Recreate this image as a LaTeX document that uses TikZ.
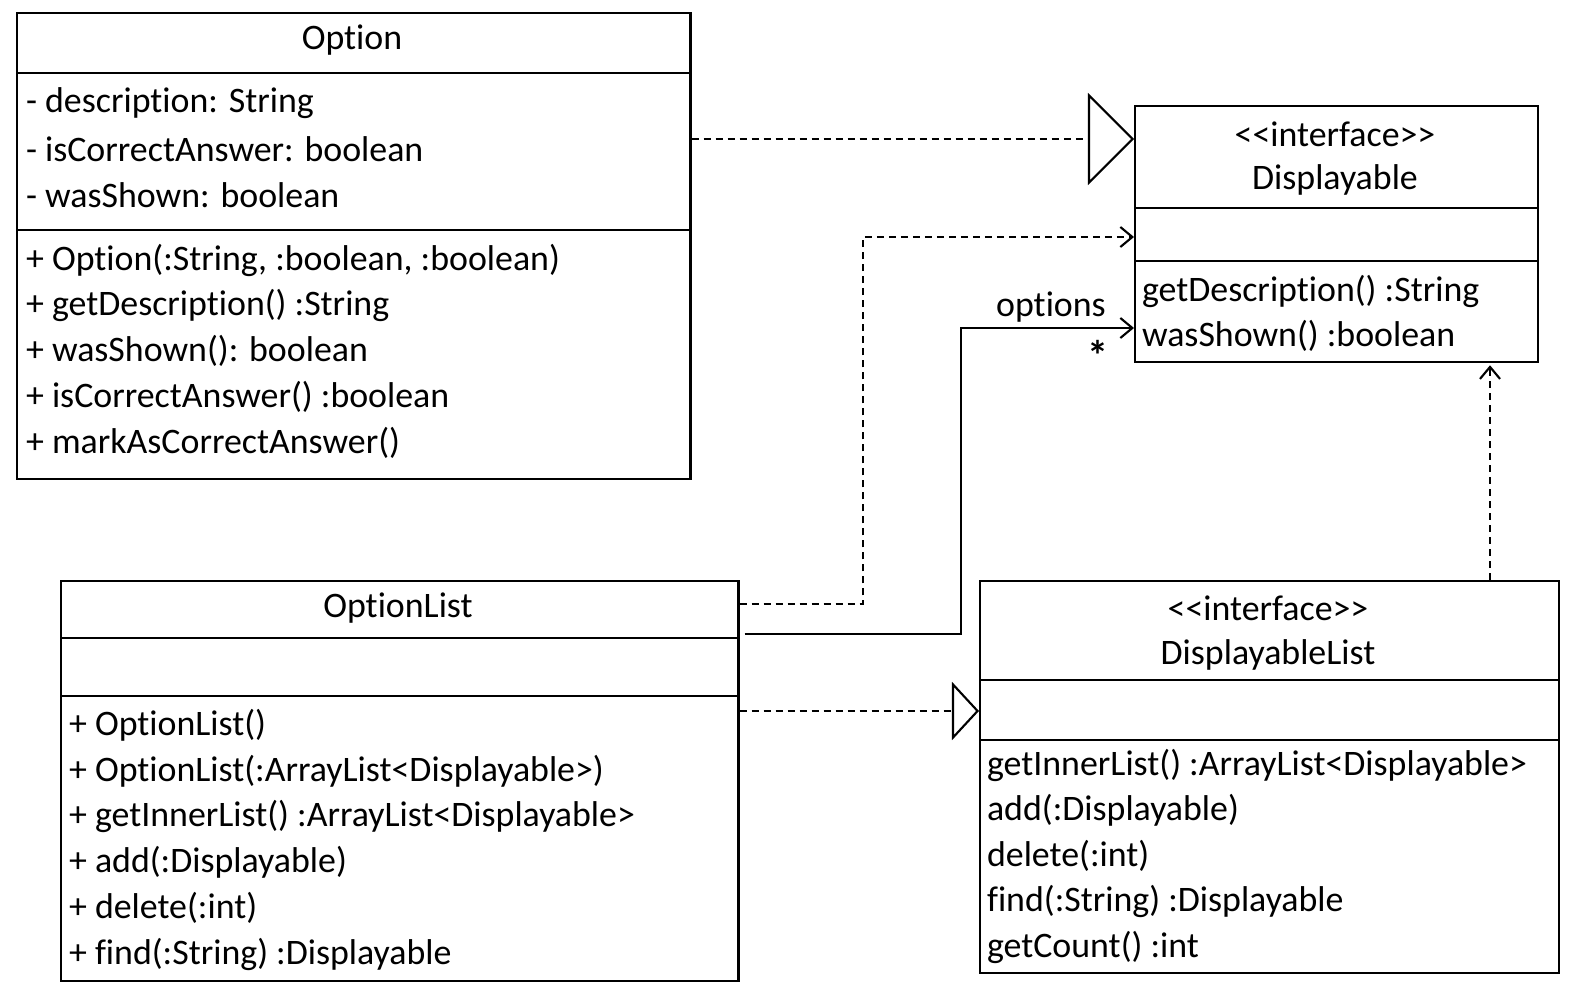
\documentclass[tikz,border=0pt]{standalone}
\usepackage{fontspec}
\setmainfont{Carlito}[Ligatures={TeXOff,NoCommon}]
\usetikzlibrary{arrows.meta,calc}

\begin{document}
\begin{tikzpicture}[
        x=0.01cm, y=-0.01cm,
        font=\fontsize{10.2}{12}\selectfont,
        line width=0.6pt,
        cls/.style={draw, anchor=north west, inner sep=0pt},
        row/.style={anchor=west, inner sep=0pt, yshift=-0.02cm},
        ttl/.style={inner sep=0pt},
        dep/.style={dash pattern=on 0.07cm off 0.05cm},
        real/.style={dep, -{Triangle[open, length=0.46cm, width=0.92cm]}},
        reals/.style={dep, -{Triangle[open, length=0.27cm, width=0.58cm]}},
        use/.style={dep, -{Straight Barb[length=0.12cm, width=0.2cm]}},
        assoc/.style={-{Straight Barb[length=0.12cm, width=0.2cm]}}
    ]
    \useasboundingbox (0,0) rectangle (1572,1000);

    % OPTION
    \node[cls, minimum width=6.73cm, minimum height=4.66cm] (opt) at (16,12) {};
    \draw (16,73) -- (689,73);
    \draw (16,230) -- (689,230);
    \node[ttl] (optT) at (352,40) {Option};
    \node[row] (o1) at (25,101) {- description: String};
    \node[row] (o2) at (25,147) {- isCorrectAnswer: boolean};
    \node[row] (o3) at (25,193) {- wasShown: boolean};
    \node[row] (o4) at (25,258) {+ Option(:String, :boolean, :boolean)};
    \node[row] (o5) at (25,303) {+ getDescription() :String};
    \node[row] (o6) at (25,349) {+ wasShown(): boolean};
    \node[row] (o7) at (25,395) {+ isCorrectAnswer() :boolean};
    \node[row] (o8) at (25,441) {+ markAsCorrectAnswer()};

    % DISPLAYABLE
    \node[cls, minimum width=4.03cm, minimum height=2.56cm] (disp) at (1134,105) {};
    \draw (1134,208) -- (1537,208);
    \draw (1134,261) -- (1537,261);
    \node[ttl] (dispS) at (1335,134) {<<interface>>};
    \node[ttl] (dispT) at (1335,180) {Displayable};
    \node[row] (d1) at (1141,289) {getDescription() :String};
    \node[row] (d2) at (1141,334) {wasShown() :boolean};

    % OPTIONLIST
    \node[cls, minimum width=6.77cm, minimum height=4.00cm] (olist) at (60,580) {};
    \draw (60,638) -- (737,638);
    \draw (60,696) -- (737,696);
    \node[ttl] (olistT) at (398,608) {OptionList};
    \node[row] (l1) at (68,723) {+ OptionList()};
    \node[row] (l2) at (68,769) {+ OptionList(:ArrayList<Displayable>)};
    \node[row] (l3) at (68,814) {+ getInnerList() :ArrayList<Displayable>};
    \node[row] (l4) at (68,860) {+ add(:Displayable)};
    \node[row] (l5) at (68,906) {+ delete(:int)};
    \node[row] (l6) at (68,952) {+ find(:String) :Displayable};

    % DISPLAYABLELIST
    \node[cls, minimum width=5.79cm, minimum height=3.92cm] (dlist) at (979,580) {};
    \draw (979,680) -- (1558,680);
    \draw (979,740) -- (1558,740);
    \node[ttl] (dlistS) at (1268,608) {<<interface>>};
    \node[ttl] (dlistT) at (1268,655) {DisplayableList};
    \node[row] (e1) at (986,763) {getInnerList() :ArrayList<Displayable>};
    \node[row] (e2) at (986,808) {add(:Displayable)};
    \node[row] (e3) at (986,854) {delete(:int)};
    \node[row] (e4) at (986,899) {find(:String) :Displayable};
    \node[row] (e5) at (986,945) {getCount() :int};

    % Connectors
    \draw[real] ($(opt.north east)+(0,127)$) -- ($(disp.north west)+(0,34)$);
    \draw[use] ($(olist.north east)+(0,24)$) -| (863,237)
        -- ($(disp.north west)+(0,132)$);
    \draw[assoc, shorten <=0.05cm] ($(olist.north east)+(0,54)$) -| (961,328)
        -- node[above=-2pt, pos=0.52] {options}
           node[below=0pt, pos=0.79, font=\fontsize{12}{12}\selectfont\bfseries] {*}
        ($(disp.north west)+(0,223)$);
    \draw[reals] ($(olist.north east)+(0,131)$) -- ($(dlist.north west)+(0,131)$);
    \draw[use] ($(dlist.north west)+(511,0)$) -- ($(disp.south west)+(356,2)$);

\end{tikzpicture}
\end{document}
